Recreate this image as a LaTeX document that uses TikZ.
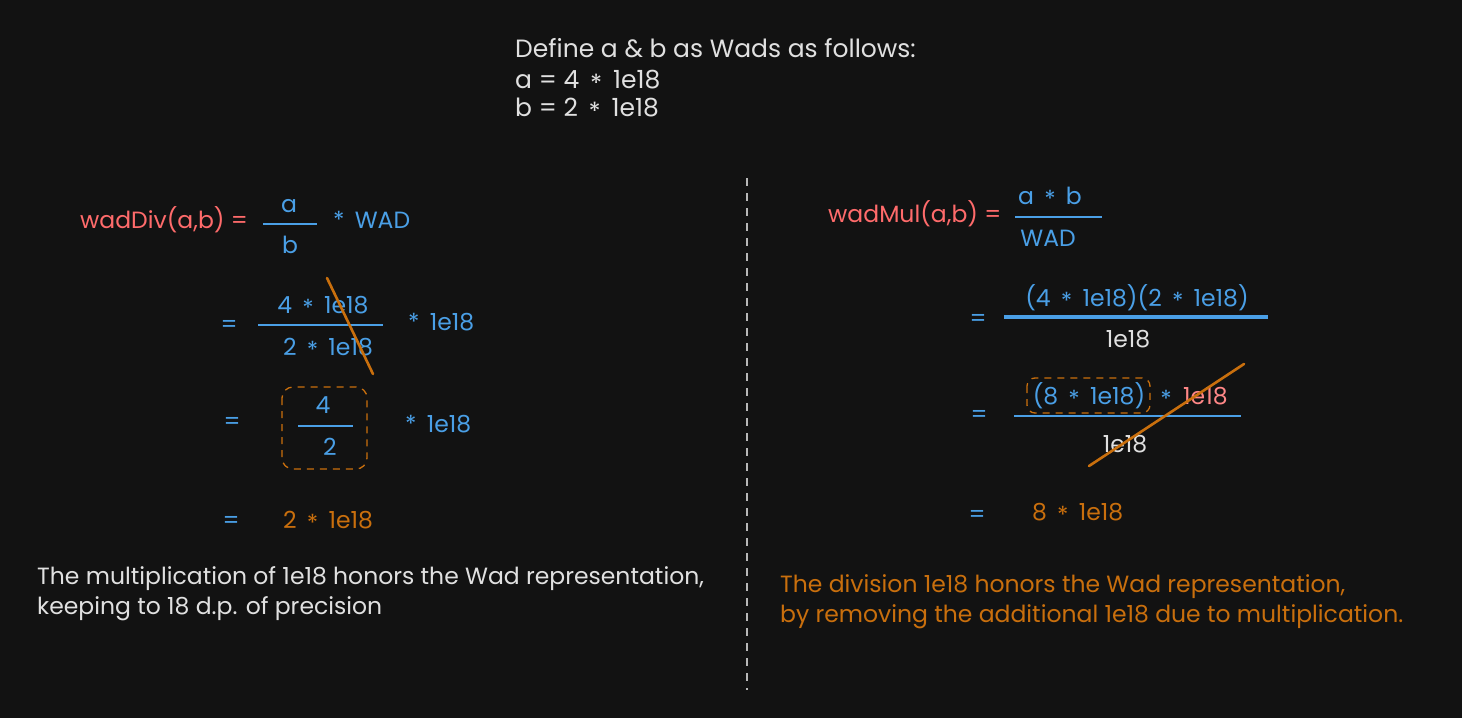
\documentclass[tikz,border=0pt]{standalone}
\usepackage{fontspec}
\setmainfont{Poppins}
\definecolor{bg}{HTML}{121212}
\definecolor{txt}{HTML}{E0E0E0}
\definecolor{rd}{HTML}{FF6B6B}
\definecolor{pk}{HTML}{FF8787}
\definecolor{bl}{HTML}{4A9FE6}
\definecolor{og}{HTML}{C96F0D}
\definecolor{sep}{HTML}{B8B8B8}
\newcommand{\st}{\,\raisebox{-0.3ex}{*}\,}

\begin{document}
\begin{tikzpicture}[x=1pt, y=-1pt,
    every node/.style={inner sep=0pt, font=\fontsize{23.5}{28}\selectfont},
    wt/.style={text=txt}, bt/.style={text=bl}, rt/.style={text=rd}, ot/.style={text=og},
    bar/.style={bl, line width=1.6pt},
    cut/.style={og, line width=2.6pt, line cap=round},
    dbox/.style={og, line width=1.3pt, dash pattern=on 7pt off 6pt, rounded corners=11pt}]
    \fill[bg] (0,0) rectangle (1462,718);

    % definitions
    \node[wt, anchor=base west, font=\fontsize{25}{30}\selectfont] (def) at (515,57) {Define a \& b as Wads as follows:};
    \node[wt, anchor=base west, font=\fontsize{25}{30}\selectfont] (da) at (515,88) {a = 4 \st{} 1e18};
    \node[wt, anchor=base west, font=\fontsize{25}{30}\selectfont] (db) at (515,116) {b = 2 \st{} 1e18};

    % separator
    \coordinate (t) at (747,178);
    \coordinate (u) at (747,690);
    \draw[sep, line width=1.5pt, dash pattern=on 8pt off 7pt] (t) -- (u);

    % wadDiv
    \node[rt, anchor=base west] (div) at (80,228) {wadDiv(a,b) =};
    \node[bt, anchor=base] (n1) at (289,212) {a};
    \draw[bar] (263,224) -- (317,224);
    \node[bt, anchor=base] (d1) at (290,253) {b};
    \node[bt, anchor=base west] (m1) at (333,228) {*\, WAD};

    \node[bt] (e2) at (229,326) {=};
    \node[bt, anchor=base] (n2) at (323,313) {4 \st{} 1e18};
    \draw[bar] (258,325) -- (383,325);
    \node[bt, anchor=base] (d2) at (328,355) {2 \st{} 1e18};
    \node[bt, anchor=base west] (m2) at (408,330) {*\, 1e18};
    \coordinate (c1) at (327,278);
    \coordinate (c2) at (373,374);
    \draw[cut] (c1) -- (c2);

    \node[bt] (e3) at (232,423) {=};
    \draw[dbox] (282,387) rectangle (367,469);
    \node[bt, anchor=base] (n3) at (323,413) {4};
    \draw[bar] (298,426) -- (353,426);
    \node[bt, anchor=base] (d3) at (330,455) {2};
    \node[bt, anchor=base west] (m3) at (405,432) {*\, 1e18};

    \node[bt] (e4) at (231,522) {=};
    \node[ot, anchor=base west] (r1) at (283,528) {2 \st{} 1e18};

    \node[wt, anchor=base west] (l1) at (37,584) {The multiplication of 1e18 honors the Wad representation,};
    \node[wt, anchor=base west] (l2) at (37,614) {keeping to 18 d.p. of precision};

    % wadMul
    \node[rt, anchor=base west] (mul) at (828,222) {wadMul(a,b) =};
    \node[bt, anchor=base] (n5) at (1050,204) {a \st{} b};
    \draw[bar] (1015,217) -- (1102,217);
    \node[bt, anchor=base] (d5) at (1048,246) {WAD};

    \node[bt] (e6) at (978,320) {=};
    \node[bt, anchor=base] (n6) at (1137,306) {(4 \st{} 1e18)(2 \st{} 1e18)};
    \draw[bar, line width=3.2pt] (1004,317) -- (1268,317);
    \node[wt, anchor=base] (d6) at (1128,347) {1e18};

    \node[bt] (e7) at (979,416) {=};
    \draw[dbox, rounded corners=8pt] (1027,378) rectangle (1150,413);
    \node[bt, anchor=base] (n7) at (1089,404) {(8 \st{} 1e18)};
    \node[bt] (s7) at (1166,399) {*};
    \node[text=pk, anchor=base west] (p7) at (1183,404) {1e18};
    \draw[bar] (1014,416) -- (1241,416);
    \node[wt, anchor=base] (d7) at (1125,452) {1e18};
    \coordinate (c3) at (1089,466);
    \coordinate (c4) at (1244,364);
    \draw[cut] (c3) -- (c4);

    \node[bt] (e8) at (977,516) {=};
    \node[ot, anchor=base west] (r2) at (1032,520) {8 \st{} 1e18};

    \node[ot, anchor=base west] (l3) at (780,592) {The division 1e18 honors the Wad representation,};
    \node[ot, anchor=base west] (l4) at (780,622) {by removing the additional 1e18 due to multiplication.};
\end{tikzpicture}
\end{document}
